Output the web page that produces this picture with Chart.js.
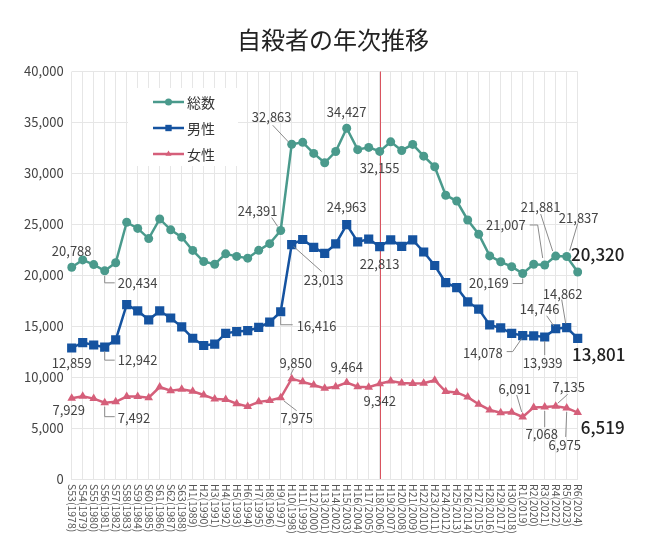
<!DOCTYPE html>
<html><head><meta charset="utf-8">
<script src="https://cdn.jsdelivr.net/npm/chart.js@4/dist/chart.umd.min.js"></script>
<style>html,body{margin:0;padding:0;background:#fff;}#wrap{width:646px;height:544px;}</style>
</head><body><div id="wrap"><canvas id="c" width="646" height="544"></canvas></div>
<script>
const categories = ["S53(1978)","S54(1979)","S55(1980)","S56(1981)","S57(1982)","S58(1983)","S59(1984)","S60(1985)","S61(1986)","S62(1987)","S63(1988)",
"H1(1989)","H2(1990)","H3(1991)","H4(1992)","H5(1993)","H6(1994)","H7(1995)","H8(1996)","H9(1997)","H10(1998)","H11(1999)","H12(2000)","H13(2001)","H14(2002)","H15(2003)","H16(2004)","H17(2005)","H18(2006)","H19(2007)","H20(2008)","H21(2009)","H22(2010)","H23(2011)","H24(2012)","H25(2013)","H26(2014)","H27(2015)","H28(2016)","H29(2017)","H30(2018)",
"R1(2019)","R2(2020)","R3(2021)","R4(2022)","R5(2023)","R6(2024)"];
const total = [20788,21503,21048,20434,21228,25202,24596,23599,25524,24460,23742,22436,21346,21084,22104,21851,21679,22445,23104,24391,32863,33048,31957,31042,32143,34427,32325,32552,32155,33093,32249,32845,31690,30651,27858,27283,25427,24025,21897,21321,20840,20169,21081,21007,21881,21837,20320];
const male = [12859,13386,13155,12942,13654,17116,16508,15624,16497,15802,14934,13818,13102,13242,14296,14468,14560,14874,15393,16416,23013,23512,22727,22144,23080,24963,23272,23540,22813,23478,22831,23472,22283,20955,19273,18787,17386,16681,15121,14826,14290,14078,14055,13939,14746,14862,13801];
const female = [7929,8117,7893,7492,7574,8086,8088,7975,9027,8658,8808,8618,8244,7842,7808,7383,7119,7571,7711,7975,9850,9536,9230,8898,9063,9464,9053,9012,9342,9615,9418,9373,9407,9696,8585,8496,8041,7344,6776,6495,6550,6091,7026,7068,7135,6975,6519];
const seriesNames = ["総数","男性","女性"];
const yTicks = [0,5000,10000,15000,20000,25000,30000,35000,40000];
const title = "自殺者の年次推移";
const markerCategory = "H18(2006)";

const colors = ["#4a9a8c","#1553a0","#d55f7a"];
const FONT = '"Noto Sans CJK JP","Noto Sans",sans-serif';

// label placement (pixel offsets from each point) — styling only
const annots = [
 {s:0,i:0,dx:0,dy:-16},
 {s:0,i:3,dx:13,dy:12,al:'left',lead:[[0,5],[0,12],[10,12]]},
 {s:0,i:19,dx:-23,dy:-19,lead:[[-9,-13],[-3,-4]]},
 {s:0,i:20,dx:-20,dy:-27,lead:[[-19,-19],[-3,-2]]},
 {s:0,i:25,dx:0,dy:-16},
 {s:0,i:28,dx:0,dy:17},
 {s:0,i:41,dx:-14,dy:10,al:'right',lead:[[0,5],[0,10],[-10,10]]},
 {s:0,i:43,dx:-19,dy:-40,al:'right',lead:[[-15,-40],[-7,-40],[-2,-7]]},
 {s:0,i:44,dx:-15,dy:-49,lead:[[-15,-42],[-3,-5]]},
 {s:0,i:45,dx:12,dy:-38,lead:[[11,-33],[3,-6]]},
 {s:0,i:46,dx:20,dy:-17,bold:true},
 {s:1,i:0,dx:0,dy:15},
 {s:1,i:3,dx:13,dy:13,al:'left',lead:[[0,4],[0,13],[10,13]]},
 {s:1,i:19,dx:16,dy:14,al:'left',lead:[[0,5],[0,13],[12,13]]},
 {s:1,i:20,dx:32,dy:36,lead:[[2,2],[30,27]]},
 {s:1,i:25,dx:0,dy:-18},
 {s:1,i:28,dx:0,dy:17},
 {s:1,i:41,dx:-20,dy:17,al:'right',lead:[[-1,3],[-10,16],[-16,16]]},
 {s:1,i:43,dx:-2,dy:26,lead:[[0,4],[0,18]]},
 {s:1,i:44,dx:-16,dy:-20,lead:[[-9,-13],[-2,-3]]},
 {s:1,i:45,dx:-4,dy:-34,lead:[[-5,-28],[-1,-4]]},
 {s:1,i:46,dx:21,dy:16,bold:true},
 {s:2,i:0,dx:-3,dy:12},
 {s:2,i:3,dx:13,dy:15,al:'left',lead:[[0,4],[0,14],[10,14]]},
 {s:2,i:19,dx:16,dy:20,lead:[[3,3],[16,13]]},
 {s:2,i:20,dx:4,dy:-16,lead:[[2,-10],[-1,-4]]},
 {s:2,i:25,dx:0,dy:-16},
 {s:2,i:28,dx:0,dy:17},
 {s:2,i:41,dx:-8,dy:-28,lead:[[-6,-22],[-1,-5]]},
 {s:2,i:43,dx:-3,dy:27,lead:[[0,4],[0,20]]},
 {s:2,i:44,dx:13,dy:-19,lead:[[12,-12],[2,-3]]},
 {s:2,i:45,dx:-2,dy:37,lead:[[0,4],[-1,29]]},
 {s:2,i:46,dx:25,dy:15,bold:true}
];

const fmt = v => v.toLocaleString('en-US');

const decor = {
 id:'decor',
 beforeDatasetsDraw(chart){
  const ctx = chart.ctx, a = chart.chartArea, xs = chart.scales.x;
  const mx = xs.getPixelForValue(categories.indexOf(markerCategory));
  ctx.save();
  ctx.strokeStyle = '#d9535f'; ctx.lineWidth = 1;
  ctx.beginPath(); ctx.moveTo(Math.round(mx)+0.5, a.top); ctx.lineTo(Math.round(mx)+0.5, a.bottom); ctx.stroke();
  ctx.fillStyle = '#fff';
  ctx.fillRect(128, 88, 110, 78);
  const styles = ['circle','rect','triangle'];
  for (let k=0;k<3;k++){
   const y = 102 + k*26;
   ctx.strokeStyle = colors[k]; ctx.lineWidth = 2.5;
   ctx.beginPath(); ctx.moveTo(153,y); ctx.lineTo(184,y); ctx.stroke();
   ctx.fillStyle = colors[k];
   Chart.helpers.drawPoint(ctx,{pointStyle:styles[k],radius:k===1?4.5:3.5,rotation:0,borderWidth:0},168.5,y);
   ctx.fillStyle = '#333'; ctx.font = '14px '+FONT; ctx.textBaseline='middle'; ctx.textAlign='left';
   ctx.fillText(seriesNames[k], 187, y+1);
  }
  ctx.restore();
 },
 afterDraw(chart){
  const ctx = chart.ctx, xs = chart.scales.x, a = chart.chartArea;
  ctx.save();
  ctx.fillStyle = '#222'; ctx.font = '24px '+FONT; ctx.textAlign='center'; ctx.textBaseline='middle';
  ctx.fillText(title, 333, 40);
  ctx.fillStyle = '#555'; ctx.font = '10.5px '+FONT;
  categories.forEach((lab,i)=>{
   const x = xs.getPixelForValue(i);
   ctx.save(); ctx.translate(x, a.bottom+5); ctx.rotate(Math.PI/2);
   ctx.textAlign='left'; ctx.textBaseline='middle'; ctx.fillText(lab,0,0); ctx.restore();
  });
  annots.forEach(an=>{
   const el = chart.getDatasetMeta(an.s).data[an.i];
   const px = el.x, py = el.y;
   const v = chart.data.datasets[an.s].data[an.i];
   if (an.lead){
    ctx.strokeStyle = '#8a8a8a'; ctx.lineWidth = 1;
    ctx.beginPath();
    an.lead.forEach((p,j)=>{ const X=px+p[0], Y=py+p[1]; j?ctx.lineTo(X,Y):ctx.moveTo(X,Y); });
    ctx.stroke();
   }
   ctx.textAlign = an.al || 'center'; ctx.textBaseline='middle';
   if (an.bold){ ctx.font = '500 17px '+FONT; ctx.fillStyle='#222'; }
   else { ctx.font = '13px '+FONT; ctx.fillStyle='#444'; }
   ctx.fillText(fmt(v), px+an.dx, py+an.dy);
  });
  ctx.restore();
 }
};

const mk = (k,data,style,r) => ({label:seriesNames[k],data,borderColor:colors[k],backgroundColor:colors[k],
 pointBackgroundColor:colors[k],pointBorderColor:colors[k],pointBorderWidth:0,pointStyle:style,pointRadius:r,
 borderWidth:2.5,tension:0,fill:false});

new Chart(document.getElementById('c'),{
 type:'line',
 data:{labels:categories,datasets:[mk(0,total,'circle',4.5),mk(1,male,'rect',6.5),mk(2,female,'triangle',5)]},
 options:{
  responsive:false,animation:false,devicePixelRatio:1,
  layout:{autoPadding:false,padding:{top:71.5,right:68.3,left:0,bottom:0}},
  plugins:{legend:{display:false},tooltip:{enabled:false},title:{display:false}},
  scales:{
   x:{type:'category',offset:false,
      grid:{color:'#e6e6e6',drawTicks:false},border:{display:true,color:'#e6e6e6'},
      ticks:{display:false},afterFit(s){s.height=65;}},
   y:{min:0,max:40000,
      afterBuildTicks(s){s.ticks=yTicks.map(v=>({value:v}));},
      grid:{color:'#e6e6e6',drawTicks:false},border:{display:false},
      ticks:{padding:8,color:'#444',font:{family:FONT,size:13},callback:v=>fmt(v)},
      afterFit(s){s.width=71.7;}}
  }
 },
 plugins:[decor]
});
</script></body></html>
